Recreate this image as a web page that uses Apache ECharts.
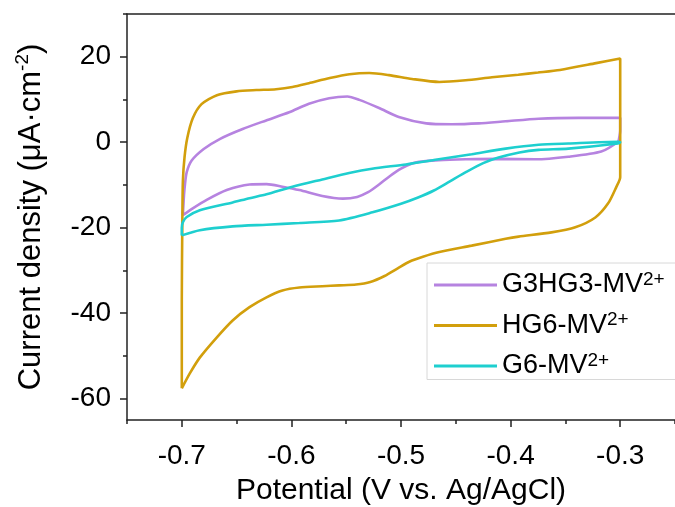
<!DOCTYPE html>
<html>
<head>
<meta charset="utf-8">
<script src="https://cdn.jsdelivr.net/npm/echarts@6/dist/echarts.min.js"></script>
<style>
html, body { margin: 0; padding: 0; background: #fff; }
#chart { width: 675px; height: 507px; }
</style>
</head>
<body>
<div id="chart"></div>
<script>
// series names (superscript "2+" is added in the legend)
var names = ['G3HG3-MV', 'HG6-MV', 'G6-MV'];
var colors = ['#B683E0', '#D29F0C', '#1ECFCF'];

// tick values
var xMajor = [-0.7, -0.6, -0.5, -0.4, -0.3];
var xMinor = [-0.75, -0.65, -0.55, -0.45, -0.35, -0.25];
var yMajor = [20, 0, -20, -40, -60];
var yMinor = [30, 10, -10, -30, -50];

// [potential V, current density uA/cm2]
var g3hg3 = [
	[-0.699,-17.1],[-0.698,-12.4],[-0.697,-9.6],[-0.6955,-7.0],[-0.691,-4.3],[-0.680,-1.6],
	[-0.665,0.8],[-0.6445,3.1],[-0.623,5.1],[-0.602,7.0],[-0.584,9.0],[-0.5655,10.3],
	[-0.549,10.7],[-0.538,9.9],[-0.520,8.0],[-0.502,5.9],[-0.477,4.4],[-0.4536,4.2],
	[-0.429,4.4],[-0.4045,4.9],[-0.3745,5.5],[-0.338,5.7],[-0.300,5.7],[-0.300,2.8],
	[-0.301,0.9],[-0.302,0.1],[-0.3173,-2.2],[-0.3473,-3.4],[-0.3773,-4.0],[-0.411,-3.9],
	[-0.441,-4.0],[-0.4655,-4.2],[-0.4836,-4.6],[-0.490,-5.0],[-0.500,-6.2],[-0.510,-7.9],
	[-0.520,-9.9],[-0.530,-11.7],[-0.540,-12.8],[-0.553,-13.2],[-0.5718,-12.6],[-0.5927,-11.2],
	[-0.6082,-10.4],[-0.6227,-9.8],[-0.6382,-9.9],[-0.659,-11.2],[-0.6773,-13.5],
	[-0.690,-15.5],[-0.699,-17.1]
];
var hg6 = [
	[-0.700,-57.6],[-0.700,-37],[-0.6995,-18.3],[-0.699,-9.0],[-0.6975,-3.5],[-0.695,1.0],
	[-0.690,5.6],[-0.682,8.9],[-0.668,11.0],[-0.650,11.9],[-0.632,12.2],[-0.614,12.4],
	[-0.599,12.9],[-0.584,13.8],[-0.565,15.0],[-0.547,15.9],[-0.529,16.2],[-0.511,15.7],
	[-0.490,14.8],[-0.465,14.1],[-0.441,14.5],[-0.417,15.2],[-0.393,15.8],[-0.375,16.3],
	[-0.355,16.9],[-0.322,18.5],[-0.300,19.6],[-0.300,5.0],[-0.300,-8.2],[-0.3036,-10.5],
	[-0.311,-14.3],[-0.3227,-17.6],[-0.341,-19.9],[-0.3627,-21.1],[-0.3927,-22.1],
	[-0.4045,-22.6],[-0.4355,-24.2],[-0.465,-25.7],[-0.480,-26.8],[-0.492,-27.9],
	[-0.503,-29.5],[-0.515,-31.3],[-0.528,-32.7],[-0.541,-33.3],[-0.5564,-33.5],[-0.5718,-33.7],
	[-0.5927,-34.0],[-0.6082,-34.7],[-0.6227,-36.3],[-0.6382,-38.6],[-0.6536,-41.7],
	[-0.6682,-45.7],[-0.6836,-50.4],[-0.6927,-54.1],[-0.700,-57.6]
];
var g6 = [
	[-0.700,-21.8],[-0.700,-20.0],[-0.699,-18.7],[-0.6955,-17.5],[-0.6836,-15.9],
	[-0.6536,-14.1],[-0.6382,-13.1],[-0.6227,-12.2],[-0.599,-10.4],[-0.5718,-8.7],
	[-0.5473,-7.2],[-0.5264,-6.2],[-0.4955,-5.2],[-0.4655,-4.0],[-0.4355,-2.8],
	[-0.4045,-1.5],[-0.3745,-0.6],[-0.3473,-0.3],[-0.302,0.1],[-0.300,0.0],[-0.302,-0.3],
	[-0.3473,-1.5],[-0.3745,-1.8],[-0.392,-2.4],[-0.411,-3.6],[-0.425,-4.9],[-0.440,-6.9],
	[-0.455,-9.1],[-0.470,-11.3],[-0.485,-13.0],[-0.500,-14.4],[-0.526,-16.4],[-0.5564,-18.3],
	[-0.5927,-18.9],[-0.6227,-19.3],[-0.6536,-19.7],[-0.6836,-20.6],[-0.700,-21.8]
];
var loops = [g3hg3, hg6, g6];

var font = 'Liberation Sans, Arial, sans-serif';
var axisColor = '#222';

var myChart = echarts.init(document.getElementById('chart'));

var series = [];
for (var i = 0; i < loops.length; i++) {
	series.push({
		name: names[i],
		type: 'line',
		data: loops[i],
		showSymbol: false,
		smooth: 0.25,
		smoothMonotone: 'none',
		lineStyle: { color: colors[i], width: 2.6 },
		itemStyle: { color: colors[i] },
		silent: true,
		animation: false
	});
}

var option = {
	animation: false,
	grid: { left: 127, right: 0, top: 14, bottom: 87, outerBoundsMode: 'none' },
	xAxis: [
		{
			type: 'value', min: -0.75, max: -0.25, position: 'bottom',
			name: 'Potential (V vs. Ag/AgCl)', nameLocation: 'middle', nameGap: 56,
			nameTextStyle: { fontFamily: font, fontSize: 30, color: '#000' },
			axisLine: { onZero: false, lineStyle: { color: axisColor, width: 1.5 } },
			axisTick: { customValues: xMajor, length: 7, lineStyle: { color: axisColor, width: 1.5 } },
			axisLabel: { customValues: xMajor, margin: 22, fontFamily: font, fontSize: 28, color: '#000' },
			splitLine: { show: false }
		},
		{
			type: 'value', min: -0.75, max: -0.25, position: 'bottom',
			axisLine: { show: false, onZero: false },
			axisTick: { customValues: xMinor, length: 4, lineStyle: { color: axisColor, width: 1.5 } },
			axisLabel: { show: false },
			splitLine: { show: false }
		},
		{
			type: 'value', min: -0.75, max: -0.25, position: 'top',
			axisLine: { onZero: false, lineStyle: { color: axisColor, width: 1.5 } },
			axisTick: { show: false },
			axisLabel: { show: false },
			splitLine: { show: false }
		}
	],
	yAxis: [
		{
			type: 'value', min: -65, max: 30, position: 'left',
			name: 'Current density (μA·cm{s|-2})', nameLocation: 'middle', nameGap: 78,
			nameTextStyle: {
				fontFamily: font, fontSize: 31, color: '#000',
				rich: { s: { fontFamily: font, fontSize: 19, color: '#000', verticalAlign: 'top', lineHeight: 36 } }
			},
			axisLine: { onZero: false, lineStyle: { color: axisColor, width: 1.5 } },
			axisTick: { customValues: yMajor, length: 7, lineStyle: { color: axisColor, width: 1.5 } },
			axisLabel: { customValues: yMajor, margin: 16, fontFamily: font, fontSize: 28, color: '#000' },
			splitLine: { show: false }
		},
		{
			type: 'value', min: -65, max: 30, position: 'left',
			axisLine: { show: false, onZero: false },
			axisTick: { customValues: yMinor, length: 4, lineStyle: { color: axisColor, width: 1.5 } },
			axisLabel: { show: false },
			splitLine: { show: false }
		}
	],
	legend: {
		orient: 'vertical', left: 427, top: 263,
		data: names,
		icon: 'rect', itemWidth: 63, itemHeight: 3, itemGap: 12,
		padding: [7, 12, 0, 7],
		borderColor: '#d8d8d8', borderWidth: 1, backgroundColor: '#fff',
		formatter: function (n) { return '{n|' + n + '}{s|2+}'; },
		textStyle: {
			rich: {
				n: { fontFamily: font, fontSize: 27, color: '#000', lineHeight: 30 },
				s: { fontFamily: font, fontSize: 19, color: '#000', lineHeight: 30, verticalAlign: 'top' }
			}
		}
	},
	series: series
};
myChart.setOption(option);
</script>
</body>
</html>
